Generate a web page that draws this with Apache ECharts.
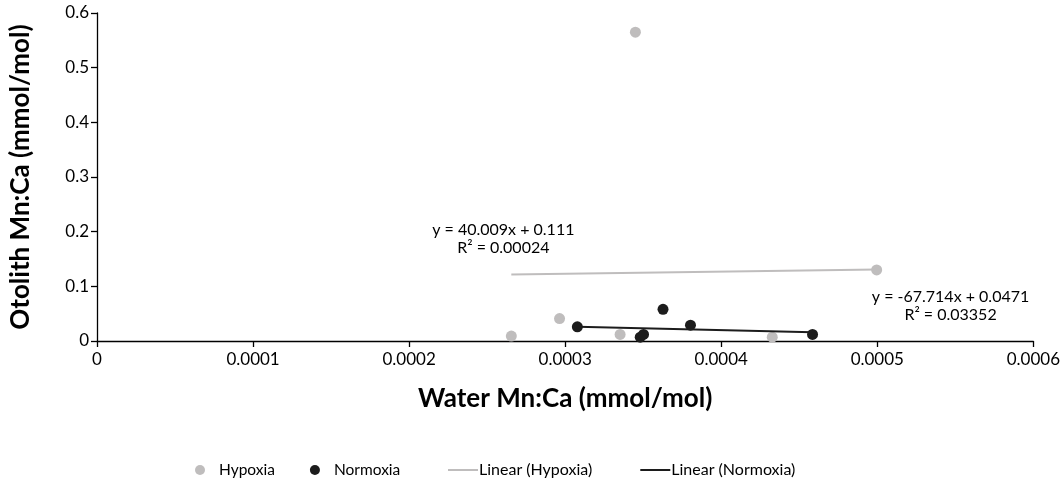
<!DOCTYPE html>
<html>
<head>
<meta charset="utf-8">
<script src="https://cdn.jsdelivr.net/npm/echarts@6/dist/echarts.min.js"></script>
<style>html,body{margin:0;padding:0;background:#fff}#c{width:1063px;height:492px}</style>
</head>
<body>
<div id="c"></div>
<script>
// ---- data ----
const hypoxiaX = [0.0002655, 0.0002964, 0.0003352, 0.000345, 0.0004327, 0.0004996];
const hypoxiaY = [0.009, 0.041, 0.012, 0.565, 0.007, 0.130];
const normoxiaX = [0.0003078, 0.0003481, 0.0003502, 0.0003627, 0.0003803, 0.0004585];
const normoxiaY = [0.026, 0.007, 0.012, 0.058, 0.029, 0.012];
const hypoxiaFit = [40.009, 0.111];     // slope, intercept
const normoxiaFit = [-67.714, 0.0471];
const xTickLabels = ['0', '0.0001', '0.0002', '0.0003', '0.0004', '0.0005', '0.0006'];
const yTickLabels = ['0', '0.1', '0.2', '0.3', '0.4', '0.5', '0.6'];
const hypoxiaEq = ['y = 40.009x + 0.111', 'R² = 0.00024'];
const normoxiaEq = ['y = -67.714x + 0.0471', 'R² = 0.03352'];

function pairs(xs, ys) { return xs.map((x, i) => [x, ys[i]]); }
function fitLine(xs, fit) {
  const a = Math.min.apply(null, xs), b = Math.max.apply(null, xs);
  return [[a, fit[0] * a + fit[1]], [b, fit[0] * b + fit[1]]];
}

const FONT = 'Lato, "DejaVu Sans", sans-serif';
const GRAY = '#bfbdbd', BLACK = '#1c1c1c';

const chart = echarts.init(document.getElementById('c'), null, {renderer: 'canvas'});
chart.setOption({
  animation: false,
  textStyle: {fontFamily: FONT},
  grid: {left: 95, right: 19, top: 13, bottom: 151, containLabel: false},
  xAxis: {
    type: 'value', min: 0, max: 0.0006, interval: 0.0001,
    name: 'Water Mn:Ca (mmol/mol)', nameLocation: 'middle', nameGap: 45,
    nameTextStyle: {fontFamily: FONT, fontSize: 26, fontWeight: 'bold', color: '#000'},
    axisLine: {show: true, lineStyle: {color: '#000', width: 1.3}},
    axisTick: {show: true, inside: false, length: 6, lineStyle: {color: '#000', width: 1.3}},
    axisLabel: {fontFamily: FONT, fontSize: 17, color: '#000', margin: 10,
      formatter: v => xTickLabels[Math.round(v / 0.0001)]},
    splitLine: {show: false}
  },
  yAxis: {
    type: 'value', min: 0, max: 0.6, interval: 0.1,
    name: 'Otolith Mn:Ca (mmol/mol)', nameLocation: 'middle', nameGap: 63, nameRotate: 90,
    nameTextStyle: {fontFamily: FONT, fontSize: 26, fontWeight: 'bold', color: '#000'},
    axisLine: {show: true, lineStyle: {color: '#000', width: 1.3}},
    axisTick: {show: true, inside: false, length: 6, lineStyle: {color: '#000', width: 1.3}},
    axisLabel: {fontFamily: FONT, fontSize: 17, color: '#000', margin: 8,
      formatter: v => yTickLabels[Math.round(v / 0.1)]},
    splitLine: {show: false}
  },
  legend: [
    {
      left: 190, top: 457, itemWidth: 10, itemHeight: 10, itemGap: 35,
      textStyle: {fontFamily: FONT, fontSize: 15.5, color: '#000', padding: [0, 0, 0, 9]},
      data: [{name: 'Hypoxia', icon: 'circle'}, {name: 'Normoxia', icon: 'circle'}]
    },
    {
      left: 443, top: 457, itemWidth: 30, itemHeight: 2, itemGap: 48,
      textStyle: {fontFamily: FONT, fontSize: 16, color: '#000', padding: [0, 0, 0, -4]},
      data: [{name: 'Linear (Hypoxia)', icon: 'rect'}, {name: 'Linear (Normoxia)', icon: 'rect'}]
    }
  ],
  series: [
    {name: 'Linear (Hypoxia)', type: 'line', data: fitLine(hypoxiaX, hypoxiaFit),
      showSymbol: false, symbol: 'none', lineStyle: {color: GRAY, width: 2}, itemStyle: {color: GRAY}, z: 1},
    {name: 'Linear (Normoxia)', type: 'line', data: fitLine(normoxiaX, normoxiaFit),
      showSymbol: false, symbol: 'none', lineStyle: {color: BLACK, width: 2}, itemStyle: {color: BLACK}, z: 3},
    {name: 'Hypoxia', type: 'scatter', data: pairs(hypoxiaX, hypoxiaY), symbol: 'circle', symbolSize: 11,
      itemStyle: {color: GRAY, opacity: 1}, z: 2},
    {name: 'Normoxia', type: 'scatter', data: pairs(normoxiaX, normoxiaY), symbol: 'circle', symbolSize: 11,
      itemStyle: {color: BLACK, opacity: 1}, z: 4}
  ]
});

// equation labels anchored to the trendline ends
function addEq(lines, dataPt, dx, dy) {
  const p = chart.convertToPixel({gridIndex: 0}, dataPt);
  return {
    type: 'text', x: p[0] + dx, y: p[1] + dy,
    style: {text: lines.join('\n'), fontFamily: FONT, fontSize: 16, fill: '#000',
      align: 'center', verticalAlign: 'top', lineHeight: 18}
  };
}
const hx0 = Math.min.apply(null, hypoxiaX), nx1 = Math.max.apply(null, normoxiaX);
chart.setOption({
  graphic: [
    addEq(hypoxiaEq, [hx0, hypoxiaFit[0] * hx0 + hypoxiaFit[1]], -8, -54),
    addEq(normoxiaEq, [nx1, normoxiaFit[0] * nx1 + normoxiaFit[1]], 138, -44)
  ]
});
</script>
</body>
</html>
